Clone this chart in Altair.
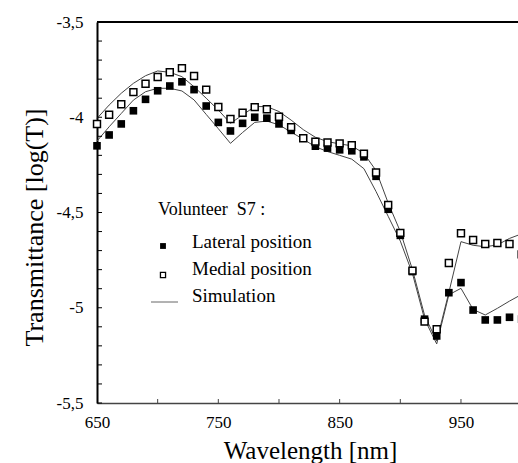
import altair as alt
import pandas as pd

# ---------------- data ----------------
wavelength = [650, 660, 670, 680, 690, 700, 710, 720, 730, 740, 750, 760,
              770, 780, 790, 800, 810, 820, 830, 840, 850, 860, 870, 880,
              890, 900, 910, 920, 930, 940, 950, 960, 970, 980, 990, 1000]

lateral = [-4.150, -4.093, -4.035, -3.966, -3.906, -3.861, -3.836, -3.814,
           -3.855, -3.941, -4.027, -4.072, -4.032, -4.000, -4.005, -4.035,
           -4.069, -4.109, -4.152, -4.162, -4.171, -4.176, -4.208, -4.310,
           -4.483, -4.620, -4.810, -5.060, -5.148, -4.921, -4.868, -5.012,
           -5.064, -5.064, -5.050, -5.060]

medial = [-4.035, -3.987, -3.932, -3.868, -3.824, -3.789, -3.764, -3.742,
          -3.783, -3.855, -3.946, -4.009, -3.976, -3.947, -3.958, -3.997,
          -4.052, -4.110, -4.128, -4.133, -4.137, -4.147, -4.191, -4.290,
          -4.461, -4.607, -4.805, -5.073, -5.113, -4.765, -4.609, -4.644,
          -4.665, -4.660, -4.665, -4.720]

sim_medial = [-4.006, -3.936, -3.874, -3.822, -3.782, -3.757, -3.764, -3.787,
              -3.840, -3.900, -3.962, -4.032, -3.988, -3.944, -3.944, -3.970,
              -4.015, -4.065, -4.105, -4.128, -4.140, -4.150, -4.190, -4.280,
              -4.450, -4.600, -4.800, -5.040, -5.175, -4.920, -4.653, -4.672,
              -4.680, -4.670, -4.636, -4.612]

sim_lateral = [-4.125, -4.050, -3.980, -3.910, -3.866, -3.848, -3.848, -3.862,
               -3.909, -3.985, -4.060, -4.137, -4.080, -4.027, -4.020, -4.040,
               -4.078, -4.115, -4.155, -4.180, -4.200, -4.220, -4.270, -4.390,
               -4.520, -4.650, -4.820, -5.060, -5.190, -4.932, -4.898, -5.009,
               -5.038, -5.003, -4.965, -4.930]

x_label_values = [650, 750, 850, 950]
x_tick_values = [700, 750, 800, 850, 900, 950]
y_label_values = [-5.5, -5.0, -4.5, -4.0, -3.5]
y_tick_values = [-5.5, -5.4, -5.3, -5.2, -5.1, -5.0, -4.9, -4.8, -4.7, -4.6,
                 -4.5, -4.4, -4.3, -4.2, -4.1, -4.0, -3.9, -3.8, -3.7, -3.6, -3.5]

legend_title = "Volunteer\u00a0\u00a0S7 :"
legend_labels = ["Lateral position", "Medial position", "Simulation"]

# ---------------- chart ----------------
W, H = 421, 381
FONT = "Liberation Serif"

df = pd.DataFrame({
    "wavelength": wavelength,
    "lateral": lateral,
    "medial": medial,
    "sim_medial": sim_medial,
    "sim_lateral": sim_lateral,
})

xscale = alt.Scale(domain=[650, 997], nice=False, zero=False)
yscale = alt.Scale(domain=[-5.5, -3.5], nice=False, zero=False)

x_axis = alt.Axis(values=x_label_values, ticks=False, tickSize=0, grid=False,
                  domainColor="#444", domainWidth=1.5, labelFlush=False,
                  labelFont=FONT, labelFontSize=17, labelColor="black",
                  labelPadding=24, labelBaseline="alphabetic",
                  title="Wavelength [nm]", titleFont=FONT, titleFontSize=25,
                  titleFontWeight="normal", titleColor="black",
                  titleBaseline="alphabetic", titleY=55, titleX=213)

y_axis = alt.Axis(values=y_label_values,
                  labelExpr="replace(toString(datum.value), '.', ',')",
                  ticks=False, tickSize=0, grid=False, labelFlush=False,
                  domainColor="black", domainWidth=2,
                  labelFont=FONT, labelFontSize=17, labelColor="black",
                  labelPadding=14,
                  title="Transmittance [log(T)]", titleFont=FONT, titleFontSize=26,
                  titleFontWeight="normal", titleColor="black",
                  titleBaseline="alphabetic", titleX=-55, titleY=205)

X = alt.X("wavelength:Q", scale=xscale, axis=x_axis)

base = alt.Chart(df)

sim_med_line = base.mark_line(color="#444", strokeWidth=1).encode(
    x=X, y=alt.Y("sim_medial:Q", scale=yscale, axis=y_axis))
sim_lat_line = base.mark_line(color="#444", strokeWidth=1).encode(
    x=X, y=alt.Y("sim_lateral:Q", scale=yscale, axis=y_axis))

lat_pts = base.mark_square(color="black", size=58, opacity=1).encode(
    x=X, y=alt.Y("lateral:Q", scale=yscale, axis=y_axis))
med_pts = base.mark_square(fill="white", stroke="black", strokeWidth=1.5,
                           size=48, opacity=1).encode(
    x=X, y=alt.Y("medial:Q", scale=yscale, axis=y_axis))

yticks = alt.Chart(pd.DataFrame({"v": y_tick_values})).mark_rule(
    color="black", strokeWidth=1).encode(
    y=alt.Y("v:Q", scale=yscale, axis=y_axis), x=alt.value(0), x2=alt.value(5))

xticks = alt.Chart(pd.DataFrame({"v": x_tick_values})).mark_rule(
    color="#444", strokeWidth=1).encode(
    x=alt.X("v:Q", scale=xscale, axis=x_axis), y=alt.value(H), y2=alt.value(H - 4))

one = pd.DataFrame({"a": [0]})
top_border = alt.Chart(one).mark_rule(color="black", strokeWidth=2).encode(
    x=alt.value(0), x2=alt.value(W + 5), y=alt.value(0))

# legend (manual)
leg_title = alt.Chart(one).mark_text(
    font=FONT, fontSize=18, color="black", align="left", baseline="alphabetic"
).encode(x=alt.value(61), y=alt.value(193), text=alt.value(legend_title))

leg_font = dict(font=FONT, fontSize=19, color="black", align="left",
                baseline="alphabetic")
leg_t1 = alt.Chart(one).mark_text(**leg_font).encode(
    x=alt.value(95), y=alt.value(226), text=alt.value(legend_labels[0]))
leg_t2 = alt.Chart(one).mark_text(**leg_font).encode(
    x=alt.value(95), y=alt.value(253), text=alt.value(legend_labels[1]))
leg_t3 = alt.Chart(one).mark_text(**leg_font).encode(
    x=alt.value(95), y=alt.value(280), text=alt.value(legend_labels[2]))
leg_m1 = alt.Chart(one).mark_square(color="black", size=34, opacity=1).encode(
    x=alt.value(66), y=alt.value(224))
leg_m2 = alt.Chart(one).mark_square(fill="white", stroke="black", strokeWidth=1.3,
                                    size=26, opacity=1).encode(
    x=alt.value(66), y=alt.value(253))
leg_m3 = alt.Chart(one).mark_rule(color="#666", strokeWidth=1).encode(
    x=alt.value(54), x2=alt.value(81), y=alt.value(280))

chart = alt.layer(
    sim_med_line, sim_lat_line, lat_pts, med_pts, yticks, xticks, top_border,
    leg_title, leg_t1, leg_t2, leg_t3, leg_m1, leg_m2, leg_m3
).properties(
    width=W, height=H,
    autosize=alt.AutoSizeParams(type="none"),
    padding={"left": 97, "top": 22, "right": 0, "bottom": 60},
    background="white",
).configure_view(stroke=None)

chart.save("out.html", embed_options={"renderer": "svg", "actions": False})
